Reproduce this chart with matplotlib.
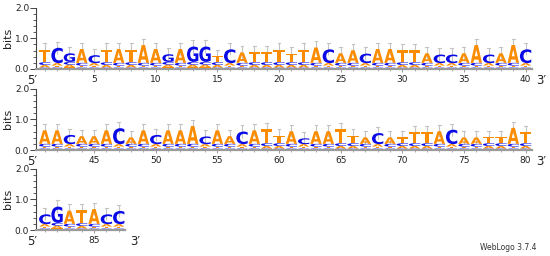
import matplotlib
matplotlib.use('Agg')
import matplotlib.pyplot as plt
from matplotlib.textpath import TextPath
from matplotlib.patches import PathPatch
from matplotlib.font_manager import FontProperties
from matplotlib.transforms import Affine2D, blended_transform_factory
from matplotlib.ticker import MultipleLocator, FixedLocator

# ---- data ----
top_letters = ("TCGACTATAAGAGGTCATTTTTACAACAATTACCAACAAC"
               "AACAAACAACAAACAACATTACAATTACATTTACAATTAT"
               "CGATACC")
top_heights = [0.41, 0.50, 0.28, 0.45, 0.26, 0.41, 0.45, 0.41, 0.58, 0.45,
               0.25, 0.45, 0.50, 0.50, 0.20, 0.45, 0.34, 0.34, 0.34, 0.41,
               0.28, 0.41, 0.50, 0.45, 0.31, 0.41, 0.31, 0.45, 0.45, 0.39,
               0.39, 0.31, 0.28, 0.28, 0.31, 0.58, 0.28, 0.31, 0.58, 0.45,
               0.44, 0.44, 0.30, 0.25, 0.25, 0.44, 0.52, 0.21, 0.44, 0.30,
               0.44, 0.44, 0.58, 0.25, 0.44, 0.25, 0.41, 0.44, 0.47, 0.25,
               0.41, 0.19, 0.41, 0.41, 0.47, 0.25, 0.21, 0.36, 0.21, 0.19,
               0.36, 0.36, 0.41, 0.47, 0.21, 0.21, 0.21, 0.21, 0.52, 0.36,
               0.32, 0.53, 0.43, 0.43, 0.48, 0.32, 0.43]
# small (minor) letter heights beneath the dominant letter
minor_heights = {'A': 0.08, 'C': 0.09, 'G': 0.05, 'T': 0.06}
error_half = 0.2
rows = [(1, 40), (41, 80), (81, 87)]
x_major_ticks = [[5, 10, 15, 20, 25, 30, 35, 40],
                 [45, 50, 55, 60, 65, 70, 75, 80],
                 [85]]

colors = {'A': '#fb8c00', 'T': '#fb8c00', 'C': '#0a0ae6', 'G': '#0a0ae6'}
fp = FontProperties(family='DejaVu Sans', weight='bold')

W, H = 550, 256
fig = plt.figure(figsize=(5.5, 2.56), dpi=100)

unit = 12.33
left_px = 36.1
bottoms_px = [69, 150, 230]
ax_h_px = 61.5


def draw_letter(ax, letter, x, y, h):
    tp = TextPath((0, 0), letter, size=1, prop=fp)
    bb = tp.get_extents()
    tr = (Affine2D().translate(-bb.x0, -bb.y0)
          .scale(0.92 / bb.width, h / bb.height)
          .translate(x - 0.46, y))
    path = tr.transform_path(tp)
    ax.add_patch(PathPatch(path, facecolor=colors[letter], edgecolor='none',
                           lw=0, zorder=3))


for r, (start, end) in enumerate(rows):
    xmin, xmax = start - 0.7, end + 0.5
    width_px = (xmax - xmin) * unit
    ax = fig.add_axes([left_px / W, 1 - bottoms_px[r] / H,
                       width_px / W, ax_h_px / H])
    ax.set_xlim(xmin, xmax)
    ax.set_ylim(0, 2)
    for pos in range(start, end + 1):
        top = top_letters[pos - 1]
        hs = dict(minor_heights)
        hs[top] = top_heights[pos - 1]
        y = 0.0
        for letter, h in sorted(hs.items(), key=lambda kv: kv[1]):
            draw_letter(ax, letter, pos, y, h)
            y += h
        ax.plot([pos, pos], [y - error_half, y + error_half], color='#c4c4c4',
                lw=0.8, zorder=2, solid_capstyle='butt')
        ax.plot([pos - 0.12, pos + 0.12], [y + error_half] * 2, color='#c4c4c4',
                lw=0.8, zorder=2)
    for s in ('top', 'right'):
        ax.spines[s].set_visible(False)
    ax.spines['left'].set_color('#444444')
    ax.spines['left'].set_linewidth(0.8)
    ax.spines['bottom'].set_color('#9a9a9a')
    ax.spines['bottom'].set_linewidth(1.6)
    ax.spines['bottom'].set_zorder(4)
    ax.xaxis.set_major_locator(FixedLocator(x_major_ticks[r]))
    ax.xaxis.set_minor_locator(FixedLocator(list(range(start, end + 1))))
    ax.yaxis.set_minor_locator(MultipleLocator(0.2))
    ax.set_yticks([0, 1, 2])
    ax.set_yticklabels(['0.0', '1.0', '2.0'])
    ax.tick_params(axis='y', which='major', length=4, width=0.7,
                   colors='#444444', labelsize=6.5, labelcolor='#222222', pad=1)
    ax.tick_params(axis='y', which='minor', length=2, width=0.6,
                   colors='#444444')
    ax.tick_params(axis='x', which='major', length=2.5, width=0.6,
                   colors='#888888', labelsize=6.5, labelcolor='#222222', pad=2)
    ax.tick_params(axis='x', which='minor', length=1.5, width=0.5,
                   colors='#888888')
    ax.set_ylabel('bits', fontsize=8, color='#222222', labelpad=1)
    tr = blended_transform_factory(ax.transData, ax.transAxes)
    ax.text(start - 1.0, -0.19, '5\u2032', transform=tr, fontsize=8.5,
            ha='center', va='center', color='#222222')
    ax.text(end + 1.3, -0.19, '3\u2032', transform=tr, fontsize=8.5,
            ha='center', va='center', color='#222222')

fig.text(0.975, 1 - 248 / H, 'WebLogo 3.7.4', fontsize=5.5, ha='right',
         va='center', color='#333333')

fig.savefig('out.png', dpi=100)
